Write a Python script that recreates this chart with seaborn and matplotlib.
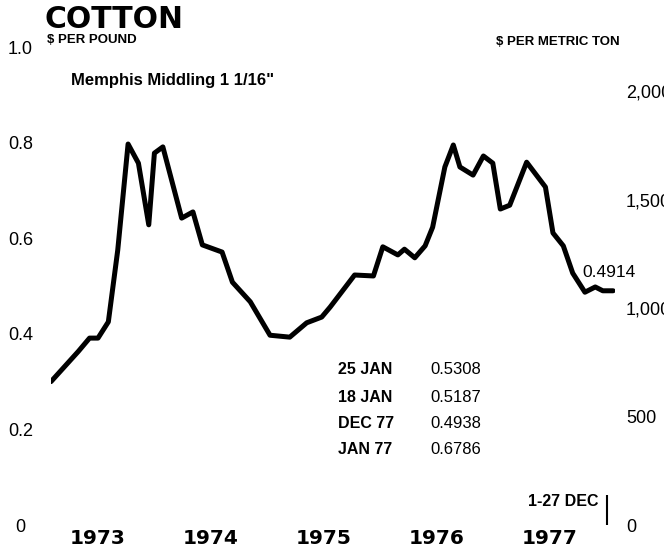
import pandas as pd
import matplotlib
matplotlib.use("Agg")
import matplotlib.pyplot as plt
import seaborn as sns

# price: months counted from Jan 1973, $ per pound
months = [0, 2.9, 4.1, 5.0, 6.1, 7.1, 8.2, 9.3, 10.4, 11.0, 11.9, 13.9, 15.1, 16.1,
          18.2, 19.3, 21.2, 23.3, 25.4, 27.2, 28.8, 29.7, 32.3, 34.3, 35.3, 36.9,
          37.6, 38.7, 39.8, 40.6, 41.9, 42.8, 43.5, 44.9, 46.0, 47.0, 47.8, 48.8,
          50.6, 52.6, 53.4, 54.5, 55.5, 56.8, 57.9, 58.7, 59.8]
price = [0.300, 0.363, 0.391, 0.391, 0.425, 0.575, 0.797, 0.757, 0.628, 0.778,
         0.791, 0.642, 0.655, 0.586, 0.571, 0.508, 0.467, 0.397, 0.393, 0.423,
         0.435, 0.456, 0.523, 0.521, 0.582, 0.565, 0.577, 0.559, 0.584, 0.623,
         0.749, 0.795, 0.749, 0.732, 0.772, 0.757, 0.661, 0.669, 0.759, 0.707,
         0.611, 0.584, 0.527, 0.487, 0.498, 0.490, 0.490]

years = ["1973", "1974", "1975", "1976", "1977"]
year_pos = [5, 17, 29, 41, 53]
pound_ticks = [0, 0.2, 0.4, 0.6, 0.8, 1.0]
pound_labels = ["0", "0.2", "0.4", "0.6", "0.8", "1.0"]
ton_ticks = [0, 500, 1000, 1500, 2000]
ton_labels = ["0", "500", "1,000", "1,500", "2,000"]
recent_dates = ["25 JAN", "18 JAN", "DEC 77", "JAN 77"]
recent_prices = ["0.5308", "0.5187", "0.4938", "0.6786"]
last_price = "0.4914"
LB_PER_TON = 2204.62

sns.set_style("white")
plt.rcParams['font.family'] = ['Liberation Sans', 'DejaVu Sans']
plt.rcParams['text.color'] = 'black'
plt.rcParams['xtick.color'] = 'black'
plt.rcParams['ytick.color'] = 'black'

df = pd.DataFrame({'month': months, 'price': price})

W, H = 664, 550
fig = plt.figure(figsize=(W / 100, H / 100), dpi=100)
ax = fig.add_axes([51 / W, 25 / H, 564 / W, 478 / H])

sns.lineplot(data=df, x='month', y='price', color='black', linewidth=3.6, ax=ax)
ax.set_xlim(0, 60)
ax.set_ylim(0, 1.0)
ax.set_xlabel('')
ax.set_ylabel('')
sns.despine(ax=ax, left=True, bottom=True)

ax.set_yticks(pound_ticks, pound_labels)
ax.tick_params(axis='y', length=0, pad=22, labelsize=13, labelcolor='black')
for lab in ax.get_yticklabels():
    lab.set_ha('center')

ax.set_xticks(year_pos, years)
ax.tick_params(axis='x', length=0, pad=3, labelsize=14.5, labelcolor='black')
for lab in ax.get_xticklabels():
    lab.set_fontweight('bold')
    lab.set_fontfamily('DejaVu Sans')

# right scale: same price in $ per metric ton (labels run off the edge as in the original)
sec = ax.secondary_yaxis('right', functions=(lambda v: v * LB_PER_TON, lambda t: t / LB_PER_TON))
sec.set_yticks(ton_ticks, ton_labels)
sec.tick_params(length=0, pad=8, labelsize=13, labelcolor='black')
sec.spines['right'].set_visible(False)


def px(x, y):
    return x / W, 1 - y / H


fig.text(*px(45, 19), 'COTTON', fontsize=21.5, fontweight='bold', va='center', ha='left',
         family='DejaVu Sans')
fig.text(*px(47, 40), '$ PER POUND', fontsize=9.5, fontweight='bold', va='center')
fig.text(*px(496, 42), '$ PER METRIC TON', fontsize=9.5, fontweight='bold', va='center')
fig.text(*px(71, 80), 'Memphis Middling 1 1/16"', fontsize=12, fontweight='bold', va='center')

row_y = [370, 397, 423, 449]
for d, p, y in zip(recent_dates, recent_prices, row_y):
    fig.text(*px(338, y), d, fontsize=11.5, fontweight='bold', va='center')
    fig.text(*px(430, y), p, fontsize=12, va='center')

ax.annotate(last_price, xy=(months[-1], price[-1]), xytext=(-22, 13),
            textcoords='offset points', fontsize=12.5, va='center', ha='left')

# bar marking the latest period
ax.vlines(months[-1] - 0.7, 0.0, 0.063, color='black', linewidth=1.5, clip_on=False)
fig.text(*px(599, 501), '1-27 DEC', fontsize=11.5, fontweight='bold', va='center', ha='right')

fig.savefig('out.png', dpi=100)
